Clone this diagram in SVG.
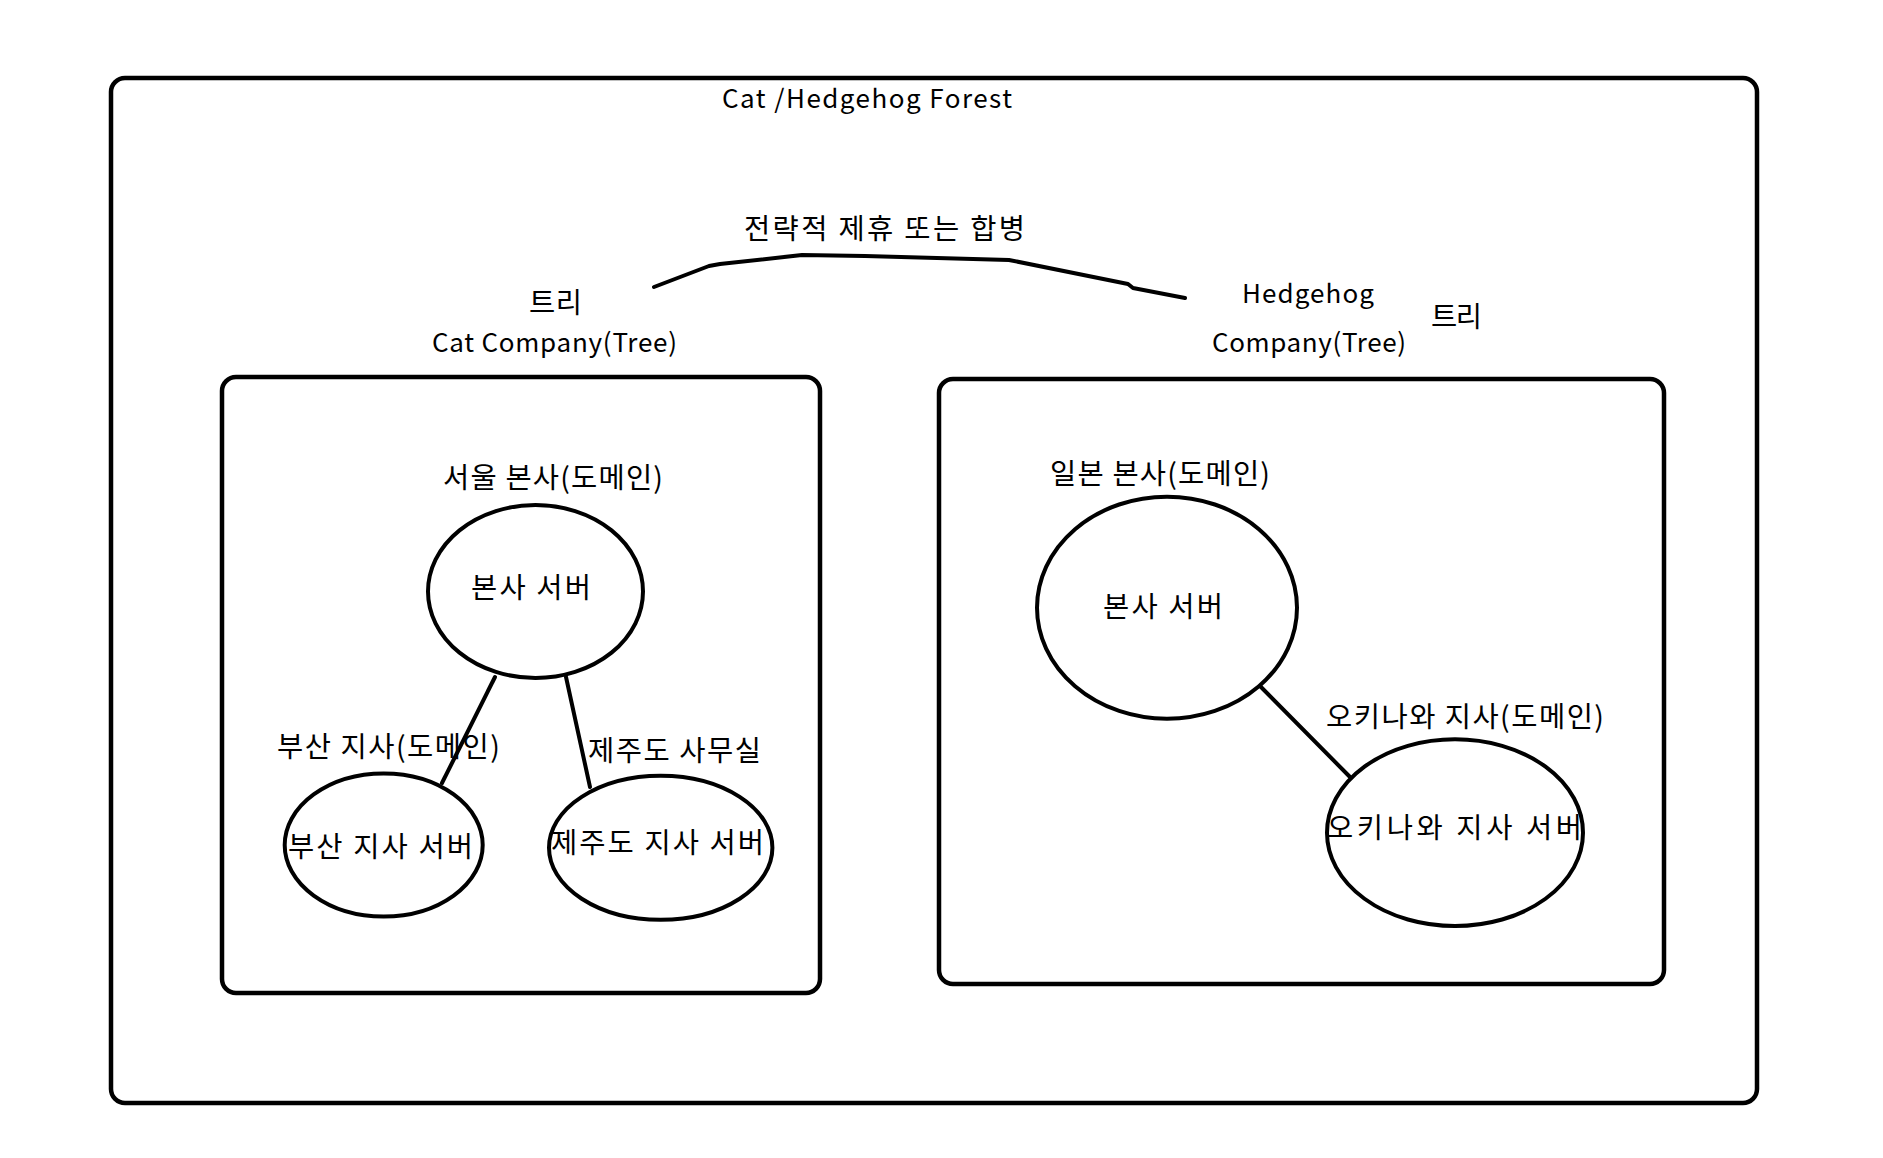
<svg xmlns="http://www.w3.org/2000/svg" width="1883" height="1158" viewBox="0 0 1883 1158">
<style>
  .box{fill:none;stroke:#000;stroke-width:4.5}
  .node{fill:#fff;stroke:#000;stroke-width:4}
  .edge{fill:none;stroke:#000;stroke-width:4;stroke-linejoin:round;stroke-linecap:round}
  text{font-family:"Noto Sans CJK KR","Noto Sans",sans-serif;font-size:26px;fill:#000}
  text.ko{font-size:28.5px}
</style>
<rect width="1883" height="1158" fill="#fff"/>
<g id="forest">
  <rect class="box" x="111" y="78" width="1646" height="1025" rx="14"/>
  <text x="722" y="108" textLength="290">Cat /Hedgehog Forest</text>
</g>
<g id="cat-company">
  <rect class="box" x="222" y="377" width="598" height="616" rx="14"/>
  <text class="ko" x="529" y="313" textLength="53">트리</text>
  <text x="432" y="352" textLength="245">Cat Company(Tree)</text>
</g>
<g id="hedgehog-company">
  <rect class="box" x="939" y="379" width="725" height="605" rx="14"/>
  <text x="1242" y="303" textLength="132">Hedgehog</text>
  <text x="1212" y="352" textLength="194">Company(Tree)</text>
  <text class="ko" x="1431" y="327" textLength="51">트리</text>
</g>
<g id="connectors">
  <polyline class="edge" points="654,287 709,266 720,264 802,255 865,256 1009,260 1128,284 1133,288 1185,298"/>
  <line class="edge" x1="495" y1="677" x2="442" y2="783"/>
  <line class="edge" x1="566" y1="677" x2="590" y2="787"/>
  <line class="edge" x1="1259" y1="685" x2="1350" y2="777"/>
</g>
<g id="alliance-label">
  <text class="ko" x="744" y="239" textLength="281">전략적 제휴 또는 합병</text>
</g>
<g id="seoul-hq">
  <text class="ko" x="443" y="488" textLength="220">서울 본사(도메인)</text>
  <ellipse class="node" cx="535.5" cy="591.5" rx="107.5" ry="86.5"/>
  <text class="ko" x="471" y="598" textLength="120">본사 서버</text>
</g>
<g id="busan-branch">
  <text class="ko" x="277" y="757" textLength="223">부산 지사(도메인)</text>
  <ellipse class="node" cx="383.7" cy="845" rx="99" ry="71.5"/>
  <text class="ko" x="288" y="857" textLength="185">부산 지사 서버</text>
</g>
<g id="jeju-office">
  <text class="ko" x="588" y="761" textLength="173">제주도 사무실</text>
  <ellipse class="node" cx="660.7" cy="847.8" rx="111.7" ry="72"/>
  <text class="ko" x="551" y="853" textLength="213">제주도 지사 서버</text>
</g>
<g id="japan-hq">
  <text class="ko" x="1050" y="484" textLength="220">일본 본사(도메인)</text>
  <ellipse class="node" cx="1167" cy="607.7" rx="130" ry="111"/>
  <text class="ko" x="1103" y="617" textLength="120">본사 서버</text>
</g>
<g id="okinawa-branch">
  <text class="ko" x="1326" y="727" textLength="278">오키나와 지사(도메인)</text>
  <ellipse class="node" cx="1455" cy="832.7" rx="128" ry="93.4"/>
  <text class="ko" x="1327" y="838" textLength="255">오키나와 지사 서버</text>
</g>
</svg>
